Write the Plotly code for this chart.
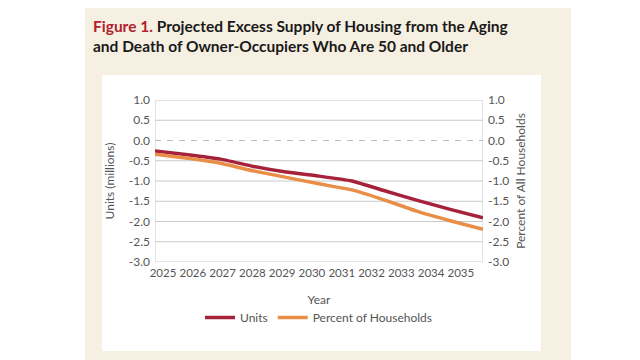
import plotly.graph_objects as go

years = [2025, 2026, 2027, 2028, 2029, 2030, 2031, 2032, 2033, 2034, 2035]
units = [-0.26, -0.35, -0.46, -0.64, -0.78, -0.88, -1.00, -1.24, -1.48, -1.70, -1.91]
percent = [-0.34, -0.44, -0.56, -0.75, -0.91, -1.07, -1.22, -1.47, -1.75, -1.98, -2.19]
y_ticks = [1.0, 0.5, 0.0, -0.5, -1.0, -1.5, -2.0, -2.5, -3.0]
y_labels = [f"{v:.1f}" for v in y_ticks]

RED = "#a6213a"
ORANGE = "#e98e47"
BEIGE = "#f6f0e2"
TXT = "#555555"
GRID = "#c9c9c9"
FONT = "Lato"

W, H = 640, 360
L, R, T, B = 147, 475, 92, 254

# In the source figure the year labels sit on a slightly narrower grid than the
# data points (label pitch ~0.91 of the point pitch, first label a bit right of
# the first point); place the labels the same way.
LABEL_PITCH = 0.908
LABEL_OFFSET = 0.245
tick_pos = [years[0] + LABEL_OFFSET + (y - years[0]) * LABEL_PITCH for y in years]


def px(x):
    return (x - L) / (R - L)


def py(y):
    return (B - y) / (B - T)


fig = go.Figure()
fig.add_trace(go.Scatter(x=years, y=units, name="Units", mode="lines",
                         line=dict(color=RED, width=3.5, shape="spline", smoothing=0.4),
                         xaxis="x", yaxis="y"))
fig.add_trace(go.Scatter(x=years, y=percent, name="Percent of Households", mode="lines",
                         line=dict(color=ORANGE, width=3.5, shape="spline", smoothing=0.4),
                         xaxis="x", yaxis="y2"))

# beige frame around the white panel, as four strips
OX0, OX1, OY0, OY1 = 77, 563, -5, 358
IX0, IX1, IY0, IY1 = 94, 533, 67, 343
strips = [
    (OX0, OX1, OY0, IY0),
    (OX0, OX1, IY1, OY1),
    (OX0, IX0, IY0, IY1),
    (IX1, OX1, IY0, IY1),
]
shapes = [
    dict(type="rect", xref="paper", yref="paper", x0=px(a), x1=px(b), y0=py(d), y1=py(c),
         fillcolor=BEIGE, line=dict(width=0), layer="below")
    for a, b, c, d in strips
]
# horizontal grid (solid, except the dashed zero line) and the plot-area side borders
for v in y_ticks:
    if v == 0:
        shapes.append(dict(type="line", xref="x", yref="y", x0=years[0], x1=years[-1], y0=v, y1=v,
                           line=dict(color="#bcbcbc", width=1.2, dash="6px,6px"), layer="between"))
    else:
        shapes.append(dict(type="line", xref="x", yref="y", x0=years[0], x1=years[-1], y0=v, y1=v,
                           line=dict(color=GRID, width=1), layer="between"))
for xv in (years[0], years[-1]):
    shapes.append(dict(type="line", xref="x", yref="y", x0=xv, x1=xv, y0=y_ticks[-1], y1=y_ticks[0],
                       line=dict(color=GRID, width=1), layer="between"))

yaxis_common = dict(range=[-3.0, 1.0], tickvals=y_ticks, ticktext=y_labels,
                    tickfont=dict(family=FONT, size=12, color=TXT),
                    zeroline=False, ticks="", fixedrange=True, showgrid=False, showline=False)

fig.update_layout(
    width=W, height=H,
    margin=dict(l=L, r=W - R, t=T, b=H - B),
    paper_bgcolor="white", plot_bgcolor="white",
    shapes=shapes,
    title=dict(
        text="<span style='color:#b3202f'>Figure 1.</span> Projected Excess Supply of Housing from the Aging"
             "<br>and Death of Owner-Occupiers Who Are 50 and Older",
        x=85 / W, xanchor="left", xref="container",
        y=1 - 24 / H, yanchor="top", yref="container",
        font=dict(family=FONT, size=15.5, color="#1a1a1a", weight="bold"),
    ),
    xaxis=dict(range=[years[0], years[-1]], tickvals=tick_pos, ticktext=[str(y) for y in years],
               tickangle=0, tickfont=dict(family=FONT, size=11.5, color=TXT), ticks="",
               showgrid=False, zeroline=False, showline=False, ticklabelstandoff=2, fixedrange=True,
               title=dict(text="Year", font=dict(family=FONT, size=12, color=TXT), standoff=18)),
    yaxis=dict(**yaxis_common, side="left", ticklabelstandoff=4,
               title=dict(text="Units (millions)", font=dict(family=FONT, size=12, color=TXT), standoff=11)),
    yaxis2=dict(**yaxis_common, side="right", overlaying="y", anchor="x", ticklabelstandoff=4,
                title=dict(text="Percent of All Households", font=dict(family=FONT, size=12, color=TXT), standoff=8)),
    legend=dict(orientation="h", x=0.5, xanchor="center", y=py(295), yanchor="top",
                font=dict(family=FONT, size=12, color=TXT), bgcolor="rgba(0,0,0,0)",
                itemwidth=30, entrywidth=0),
    showlegend=True,
)

fig.write_html("out.html")
